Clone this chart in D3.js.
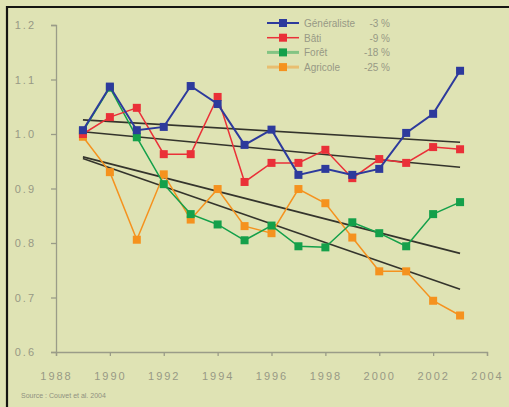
<!DOCTYPE html>
<html>
<head>
<meta charset="utf-8">
<script src="https://cdn.jsdelivr.net/npm/d3@7/dist/d3.min.js"></script>
<style>
  body { margin: 0; background: #dfe3b4; }
  svg { display: block; font-family: "Liberation Sans", Arial, sans-serif; }
</style>
</head>
<body>
<div id="chart"></div>
<script>
// years and series values
const years = [1989, 1990, 1991, 1992, 1993, 1994, 1995, 1996, 1997, 1998, 1999, 2000, 2001, 2002, 2003];
const generaliste = [1.007, 1.087, 1.007, 1.013, 1.088, 1.055, 0.980, 1.008, 0.925, 0.936, 0.925, 0.936, 1.002, 1.037, 1.116];
const bati = [1.000, 1.031, 1.048, 0.963, 0.963, 1.068, 0.912, 0.947, 0.947, 0.971, 0.919, 0.954, 0.947, 0.976, 0.972];
const foret = [1.005, 1.085, 0.994, 0.908, 0.853, 0.834, 0.805, 0.832, 0.794, 0.792, 0.838, 0.818, 0.794, 0.853, 0.875];
const agricole = [0.995, 0.930, 0.806, 0.926, 0.843, 0.899, 0.831, 0.818, 0.899, 0.873, 0.810, 0.748, 0.748, 0.694, 0.667];

// trend lines: value at 1989 and at 2003
const trendStart = [1.026, 1.004, 0.958, 0.955];
const trendEnd = [0.985, 0.939, 0.781, 0.715];

const names = ["Généraliste", "Bâti", "Forêt", "Agricole"];
const changes = ["-3 %", "-9 %", "-18 %", "-25 %"];
const colors = ["#2d3a9c", "#ea3038", "#14a04a", "#f5921e"];

const yTicks = [0.6, 0.7, 0.8, 0.9, 1.0, 1.1, 1.2];
const xTicks = [1988, 1990, 1992, 1994, 1996, 1998, 2000, 2002, 2004];

const width = 509, height = 407;

const svg = d3.select("#chart").append("svg")
    .attr("width", width)
    .attr("height", height);

// frame (only left and top edges show)
svg.append("path")
    .attr("d", "M7,407 L7,7 L509,7")
    .attr("fill", "none")
    .attr("stroke", "#151512")
    .attr("stroke-width", 2.2);

const x = d3.scaleLinear().domain([1988, 2004]).range([56, 487]);
const y = d3.scaleLinear().domain([0.6, 1.2]).range([352, 25]);

// axes
const yAxis = svg.append("g")
    .attr("transform", "translate(56,0)")
    .call(d3.axisLeft(y).tickValues(yTicks).tickFormat(d3.format(".1f")).tickSize(5).tickPadding(15));
const xAxis = svg.append("g")
    .attr("transform", "translate(0,352)")
    .call(d3.axisBottom(x).tickValues(xTicks).tickFormat(d3.format("d")).tickSize(4).tickPadding(16));

[yAxis, xAxis].forEach(g => {
    g.select(".domain").attr("stroke", "#9a9c88").attr("stroke-width", 1.3);
    g.selectAll(".tick line").attr("stroke", "#9a9c88").attr("stroke-width", 1.3);
    g.selectAll(".tick text")
        .attr("fill", "#979985")
        .style("font-size", "11px")
        .style("letter-spacing", "2px");
});

// trend lines
trendStart.forEach((s, i) => {
    svg.append("line")
        .attr("x1", x(years[0])).attr("y1", y(s))
        .attr("x2", x(years[years.length - 1])).attr("y2", y(trendEnd[i]))
        .attr("stroke", "#34342c")
        .attr("stroke-width", 1.6);
});

// series
const series = [generaliste, bati, foret, agricole];
const line = d3.line().x((d, i) => x(years[i])).y(d => y(d));

// draw in reverse so blue is on top
[3, 2, 1, 0].forEach(k => {
    const g = svg.append("g");
    g.append("path")
        .attr("d", line(series[k]))
        .attr("fill", "none")
        .attr("stroke", colors[k])
        .attr("stroke-width", k === 0 ? 2 : 1.5);
    g.selectAll("rect")
        .data(series[k])
        .join("rect")
        .attr("x", (d, i) => x(years[i]) - 4)
        .attr("y", d => y(d) - 4)
        .attr("width", 8)
        .attr("height", 8)
        .attr("fill", colors[k]);
});

// legend
const legend = svg.append("g");
names.forEach((n, i) => {
    const ly = 23 + i * 14.7;
    const faded = i >= 2;
    legend.append("line")
        .attr("x1", 267).attr("x2", 299)
        .attr("y1", ly).attr("y2", ly)
        .attr("stroke", colors[i])
        .attr("stroke-width", faded ? 3 : (i === 0 ? 2 : 1.5))
        .attr("opacity", faded ? 0.45 : 1);
    legend.append("rect")
        .attr("x", 279).attr("y", ly - 4)
        .attr("width", 8).attr("height", 8)
        .attr("fill", colors[i]);
    legend.append("text")
        .attr("x", 304).attr("y", ly + 4)
        .attr("fill", "#979985")
        .style("font-size", "10px")
        .text(n);
    legend.append("text")
        .attr("x", 390).attr("y", ly + 4)
        .attr("text-anchor", "end")
        .attr("fill", "#979985")
        .style("font-size", "10px")
        .text(changes[i]);
});

// source
svg.append("text")
    .attr("x", 21).attr("y", 398)
    .attr("fill", "#8f9180")
    .style("font-size", "7px")
    .text("Source : Couvet et al. 2004");
</script>
</body>
</html>
